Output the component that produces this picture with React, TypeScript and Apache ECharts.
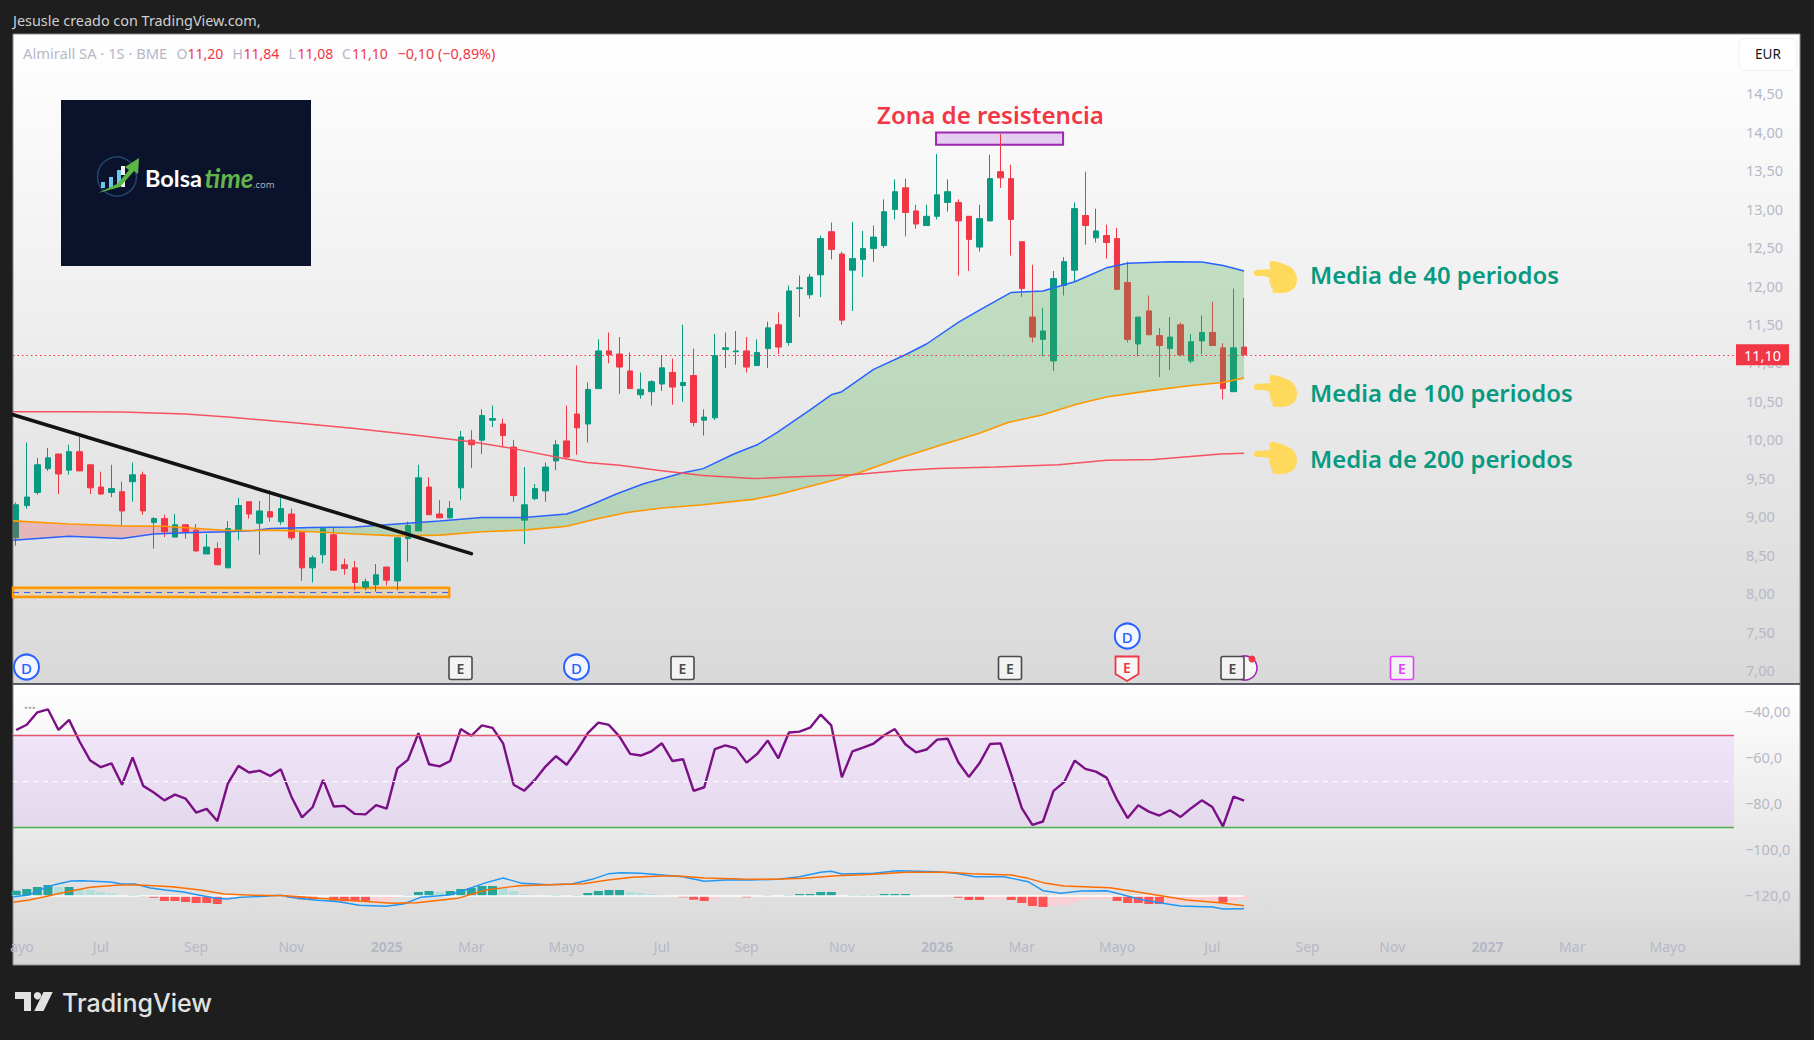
import React, { useEffect, useRef } from "react";
import * as echarts from "echarts";

const FONT = '"Noto Sans", sans-serif';
const AXIS_COLOR = "#b6b8c6";
const GREEN = "#089981";
const RED = "#f23645";

const opens = [8.72,9.14,9.31,9.62,9.81,9.60,9.84,9.67,9.38,9.31,9.32,9.45,9.54,8.92,8.97,8.73,8.89,8.82,8.51,8.58,8.33,8.82,9.19,8.91,9.06,8.93,9.03,8.79,8.33,8.50,8.76,8.37,8.33,8.08,8.11,8.34,8.16,8.71,8.81,9.38,9.03,8.98,9.37,9.99,9.99,10.25,10.20,9.90,8.95,9.23,9.33,9.72,9.98,10.33,10.20,10.66,11.15,11.11,10.89,10.58,10.62,10.72,10.87,10.70,10.83,10.25,10.28,11.17,11.14,11.15,10.96,11.18,11.49,11.26,11.96,11.88,12.14,12.70,12.41,12.20,12.34,12.48,12.52,12.99,13.27,12.97,12.78,12.90,13.08,13.08,12.90,12.50,12.84,13.48,13.39,12.57,11.59,11.30,11.02,12.00,12.20,12.91,12.62,12.65,12.61,12.04,11.24,11.67,11.35,11.18,11.49,11.02,11.28,11.39,11.19,10.62,11.20];
const closes = [9.15,9.25,9.67,9.76,9.55,9.84,9.59,9.37,9.29,9.36,9.07,9.54,9.07,8.97,8.80,8.89,8.80,8.55,8.60,8.37,8.84,9.14,9.03,9.07,8.99,9.10,8.72,8.33,8.46,8.84,8.30,8.32,8.14,8.15,8.24,8.17,8.72,8.88,9.50,9.02,8.98,9.10,10.03,9.93,10.31,10.27,10.05,9.27,9.15,9.36,9.64,9.93,9.77,10.15,10.65,11.15,11.10,10.94,10.66,10.65,10.75,10.93,10.68,10.74,10.22,10.29,11.09,11.19,11.15,10.94,11.13,11.45,11.20,11.93,11.97,12.11,12.61,12.47,11.55,12.35,12.48,12.63,12.96,13.22,12.95,12.80,12.90,13.18,13.22,12.84,12.60,12.87,13.39,13.40,12.86,11.96,11.33,11.41,12.09,12.31,13.00,12.78,12.71,12.56,11.95,11.30,11.59,11.36,11.22,11.33,11.10,11.27,11.39,11.22,10.66,11.19,11.10];
const highs = [9.18,9.96,9.76,9.89,9.81,9.93,10.03,9.67,9.58,9.67,9.45,9.70,9.58,8.99,9.02,9.03,8.90,8.90,8.77,8.66,8.94,9.24,9.19,9.20,9.34,9.24,9.10,8.79,8.49,8.85,8.86,8.45,8.42,8.19,8.38,8.34,8.72,8.93,9.67,9.51,9.21,9.20,10.11,10.12,10.39,10.44,10.27,9.99,9.64,9.42,9.70,9.99,10.44,10.96,10.74,11.30,11.39,11.33,11.13,10.87,10.77,11.09,11.05,11.49,11.18,10.39,11.37,11.39,11.41,11.33,11.30,11.53,11.65,12.00,12.13,12.15,12.65,12.82,12.44,12.83,12.71,12.78,13.12,13.38,13.39,13.05,13.05,13.71,13.38,13.12,12.90,13.05,13.70,13.97,13.57,12.57,12.27,11.71,12.19,12.37,13.08,13.48,13.00,12.79,12.75,12.31,11.59,11.87,11.45,11.59,11.52,11.37,11.61,11.79,11.25,11.96,11.84];
const lows = [8.62,9.10,9.28,9.59,9.29,9.54,9.59,9.29,9.28,9.25,8.88,9.19,9.02,8.58,8.73,8.73,8.71,8.54,8.51,8.37,8.33,8.69,8.97,8.50,8.93,8.89,8.69,8.16,8.14,8.39,8.30,8.24,8.04,8.04,8.02,8.10,8.04,8.41,8.81,9.02,8.98,8.97,9.21,9.63,9.81,10.16,9.90,9.19,8.64,9.21,9.19,9.60,9.75,9.80,9.96,10.66,10.99,10.59,10.66,10.53,10.44,10.63,10.45,10.49,10.17,10.05,10.25,10.93,10.97,10.87,10.96,10.93,11.11,11.22,11.59,11.83,11.85,12.34,11.49,11.67,12.11,12.31,12.49,12.86,12.64,12.74,12.78,12.86,12.96,12.13,12.19,12.44,12.84,13.27,12.39,11.85,11.26,11.08,10.89,11.87,12.05,12.53,12.56,12.35,11.95,11.26,11.08,11.36,10.81,10.90,11.08,10.99,11.11,11.22,10.52,10.62,11.08];

const ma40 = [[-0.3,8.69],[5,8.74],[10,8.71],[13,8.77],[16,8.785],[20,8.80],[22.5,8.815],[24,8.84],[28,8.855],[32,8.86],[36,8.90],[40,8.94],[44,8.985],[48,8.985],[52,9.03],[53,9.075],[54.5,9.16],[56.7,9.29],[59.2,9.42],[63,9.565],[64.9,9.62],[67.8,9.81],[70,9.93],[71.9,10.09],[75,10.385],[77,10.58],[78,10.62],[81,10.91],[84,11.10],[86,11.24],[89,11.52],[91,11.68],[94,11.91],[97,11.93],[100,12.05],[103,12.23],[105,12.29],[109,12.31],[112,12.305],[114,12.26],[116,12.19]];
const ma100 = [[-0.3,8.94],[5,8.90],[10,8.875],[14,8.87],[20,8.815],[22.5,8.815],[24,8.82],[28,8.80],[32,8.77],[36,8.745],[40,8.755],[44,8.80],[48,8.82],[52,8.87],[54.8,8.965],[57.7,9.05],[60.8,9.105],[64.9,9.15],[69.6,9.22],[71.9,9.28],[75,9.39],[77.2,9.47],[79.5,9.56],[83.6,9.76],[87,9.91],[91,10.08],[93.7,10.22],[97,10.32],[100,10.45],[103,10.55],[107.5,10.64],[111,10.70],[114,10.74],[116,10.80]];
const ma200 = [[-0.3,10.36],[5,10.36],[10,10.355],[16,10.33],[20,10.29],[26,10.22],[32,10.14],[38,10.05],[43,9.97],[47,9.88],[51.6,9.755],[53.9,9.70],[57,9.665],[60.8,9.595],[64.9,9.53],[69.6,9.49],[75,9.52],[79,9.54],[84,9.60],[87,9.62],[92.5,9.64],[98.5,9.67],[103,9.73],[107.5,9.74],[113.8,9.81],[116,9.82]];
const MA_CROSS = 22.5;

const trendLine = [[-0.3,10.32],[43,8.515]];
const supportMid = [[-0.3,8.01],[40.9,8.01]];
const supportZone = { x0: -0.3, x1: 40.9, top: 8.07, bottom: 7.95 };
const resistanceZone = { x0: 86.9, x1: 98.9, top: 13.99, bottom: 13.83 };
const lastClose = 11.10;

const rsi = [-48.4,-46.1,-40.7,-39.4,-48.4,-44.0,-53.5,-61.7,-64.6,-62.9,-72.2,-60.3,-72.7,-75.6,-79.0,-76.5,-78.2,-84.3,-82.7,-88.0,-71.6,-64.0,-66.9,-66.1,-68.4,-65.5,-77.4,-86.4,-82.0,-70.1,-81.7,-81.4,-84.9,-85.1,-81.1,-82.6,-65.1,-61.4,-49.8,-63.3,-64.2,-61.9,-48.0,-50.9,-46.4,-47.5,-54.2,-72.2,-74.8,-70.1,-64.3,-59.8,-63.5,-57.1,-49.8,-45.2,-46.2,-51.3,-58.8,-59.5,-57.7,-54.2,-61.9,-61.1,-74.9,-73.3,-56.7,-55.1,-56.4,-62.6,-58.8,-53.0,-60.7,-49.5,-49.1,-47.4,-41.7,-46.4,-69.0,-57.7,-56.1,-54.3,-50.7,-48.0,-54.6,-58.1,-56.9,-52.6,-52.2,-62.4,-68.8,-62.9,-54.5,-54.2,-67.7,-82.4,-89.7,-88.2,-74.9,-71.1,-61.7,-65.3,-66.5,-69.1,-78.8,-86.7,-81.1,-83.9,-85.6,-83.3,-86.2,-82.4,-79.0,-81.9,-90.3,-77.4,-79.1];
const rsiUpper = -50.9;
const rsiMiddle = -70.7;
const rsiLower = -90.7;

const macdHist = [.053,.07,.09,.11,.09,.09,.067,.06,.04,.027,.003,.01,-.007,-.017,-.05,-.05,-.06,-.07,-.07,-.08,-.04,-.017,-.007,-.003,0,.003,-.017,-.033,-.033,-.01,-.047,-.053,-.053,-.054,-.05,-.048,-.01,.01,.04,.05,.04,.05,.07,.08,.10,.10,.08,.05,.02,.003,.002,.01,.003,.01,.03,.05,.06,.06,.04,.03,.02,.007,0,-.013,-.037,-.05,-.03,-.007,-.005,-.013,-.007,.007,0,.01,.02,.02,.04,.04,.001,.01,.01,.01,.02,.02,.02,.007,0,0,-.003,-.017,-.04,-.04,-.033,-.03,-.04,-.07,-.10,-.11,-.10,-.09,-.06,-.04,-.033,-.03,-.05,-.07,-.07,-.08,-.08,-.07,-.065,-.063,-.06,-.058,-.065,-.06,-.033];
const macdLine = [[-0.26,-.007],[1.2,.01],[3,.093],[3.9,.12],[5.2,.15],[6.2,.153],[8.9,.14],[10,.12],[11.2,.12],[12.7,.08],[14.1,.06],[15.8,.04],[17.2,.01],[18.9,-.023],[19.9,-.03],[21.2,-.013],[23.5,-.003],[25,.007],[26.2,-.017],[28.2,-.04],[30.5,-.057],[32.4,-.093],[34.9,-.103],[36.6,-.08],[38.2,-.013],[40.9,.01],[42.4,.06],[44.4,.133],[46,.18],[47.8,.127],[50.2,.113],[52.5,.12],[54.4,.167],[56,.223],[57.1,.233],[59,.227],[61,.21],[63,.193],[65,.147],[67,.16],[69.4,.16],[72,.167],[74,.193],[76,.237],[77,.247],[78,.22],[81,.227],[83.3,.253],[87,.243],[88.7,.227],[90.6,.193],[93.3,.193],[95.6,.143],[97,.053],[98.7,.027],[100.6,.05],[103,.053],[104,.027],[106.4,-.04],[108.3,-.073],[110,-.10],[113,-.11],[114,-.13],[116,-.127]];
const macdSignal = [[-0.26,-.063],[1.2,-.04],[2.7,-.007],[4.6,.037],[7,.087],[9.7,.11],[11.6,.11],[14.7,.093],[17.4,.06],[19.7,.02],[22.4,.007],[25.5,.003],[28.6,-.023],[32.4,-.05],[35.5,-.073],[37.8,-.067],[41.7,-.023],[44.4,.06],[47.5,.103],[50.5,.113],[53.6,.123],[55.9,.16],[58.2,.187],[61,.2],[62.5,.2],[65,.18],[68.6,.17],[71.7,.167],[74.4,.177],[77.5,.203],[81,.217],[84,.237],[88,.237],[90.2,.223],[94,.21],[95.6,.177],[97,.133],[99,.10],[103.3,.083],[105.2,.053],[108.3,0],[110.6,-.04],[113.7,-.067],[116,-.097]];
const macdZero = [[-0.3,0],[116,0]];

const priceTicks = [7,7.5,8,8.5,9,9.5,10,10.5,11,11.5,12,12.5,13,13.5,14,14.5];
const rsiTicks = [-40,-60,-80,-100,-120];
const rsiTickLabels = ["\u221240,00","\u221260,0","\u221280,0","\u2212100,0","\u2212120,0"];
const timeTickPos = [0.55,8,17,26,35,43,52,61,69,78,87,95,104,113,122,130,139,147,156];
const timeTickLabels = ["ayo","Jul","Sep","Nov","2025","Mar","Mayo","Jul","Sep","Nov","2026","Mar","Mayo","Jul","Sep","Nov","2027","Mar","Mayo"];

const headerParts: [number, string, string, number][] = [
  [23, "Almirall SA \u00b7 1S \u00b7 BME", AXIS_COLOR, 14.7],
  [176.5, "O", AXIS_COLOR, 14], [187.5, "11,20", RED, 14],
  [232.5, "H", AXIS_COLOR, 14], [243.5, "11,84", RED, 14],
  [288.5, "L", AXIS_COLOR, 14], [297.5, "11,08", RED, 14],
  [342, "C", AXIS_COLOR, 14], [352, "11,10", RED, 14],
  [397.5, "\u22120,10 (\u22120,89%)", RED, 14.4],
];

const annotations: [number, string][] = [
  [274, "Media de 40 periodos"],
  [392, "Media de 100 periodos"],
  [458, "Media de 200 periodos"],
];
const handTops = [260, 374, 441];

const HAND_PATH = "M2 10 L17 9 C15 6 15 2 17 1 C22 1 28 3 32 5 C39 7 43 13 43 20 C43 28 36 33 28 33 L21 33 C18 33 18 30 19 29 C17 28 16 26 17 24 C15 23 15 20 16 18 C14 17 13 16 2 16 C-1 15 -1 11 2 10 Z";
echarts.graphic.registerShape("hand", echarts.graphic.extendPath(HAND_PATH, {}));

const text = (x: number, y: number, t: string, fill: string, font: string, align = "left", z = 50) => ({
  type: "text", x, y, z, silent: true,
  style: { text: t, fill, font, textAlign: align, textVerticalAlign: "middle" },
});

const rect = (x: number, y: number, w: number, h: number, style: any, z = 50, r = 0) => ({
  type: "rect", z, silent: true, shape: { x, y, width: w, height: h, r }, style,
});

const paneGradient = (to: string) => new echarts.graphic.LinearGradient(0, 0, 0, 1, [
  { offset: 0, color: "#ffffff" }, { offset: 1, color: to },
]);

function badgeD(x: number, y: number) {
  return [
    { type: "circle", z: 50, silent: true, shape: { cx: x, cy: y, r: 12.5 }, style: { fill: "#f4f6ff", stroke: "#2962ff", lineWidth: 2 } },
    text(x, y + 0.5, "D", "#2962ff", `500 15px ${FONT}`, "center", 51),
  ];
}
function badgeE(x: number, color: string) {
  return [
    rect(x - 11.5, 656.5, 23, 23, { fill: "#f3f3f3", stroke: color, lineWidth: 1.6 }, 50, 2),
    text(x, 668, "E", color, `600 14px ${FONT}`, "center", 51),
  ];
}

function backgroundGraphics() {
  return [
    rect(13, 34, 1787, 650, { fill: paneGradient("#d9d9d9") }, -5),
    rect(13, 684, 1787, 281, { fill: paneGradient("#d5d5d5") }, -5),
    rect(13, 34, 1787, 931, { fill: "none", stroke: "#8c8c8c", lineWidth: 1 }, -4),
    { type: "line", z: -3, silent: true, shape: { x1: 13, y1: 684, x2: 1800, y2: 684 }, style: { stroke: "#2a2e39", lineWidth: 1.5 } },
  ];
}

function logoGraphics() {
  const bars: [number, number, number][] = [[103, 186, 8], [111, 181, 13], [119, 174, 18]];
  return [
    rect(61, 100, 250, 166, { fill: "#0a132b" }, 60),
    { type: "circle", z: 61, silent: true, shape: { cx: 117, cy: 176.5, r: 19.5 }, style: { fill: "none", stroke: "#23466f", lineWidth: 1.5 } },
    ...bars.map(([x, y, h]) => rect(x - 2, y - 4, 4, h - 2, { fill: "#6fc6ec" }, 62)),
    rect(121, 166, 4, 9, { fill: "#f0f0f0" }, 62),
    rect(121, 181, 4, 6, { fill: "#f0f0f0" }, 62),
    { type: "polygon", z: 63, silent: true, shape: { points: [[98, 193], [117, 184], [129, 170], [125, 167], [139, 158], [138, 174], [134, 171], [120, 187]] }, style: { fill: "#5cb646" } },
    text(145, 178, "Bolsa", "#ffffff", `700 23.5px Lato, ${FONT}`, "left", 62),
    text(204.5, 178, "time", "#62b44c", `italic 700 26px Lato, ${FONT}`, "left", 62),
    text(253, 184, ".com", "#a8b0bc", `400 9.5px ${FONT}`, "left", 62),
  ];
}

function frontGraphics() {
  const items: any[] = [
    text(13, 20, "Jesusle creado con TradingView.com,", "#cfcfcf", `400 14.4px ${FONT}`),
    ...headerParts.map(([x, t, c, s]) => text(x, 53, t, c, `400 ${s}px ${FONT}`)),
    rect(1739, 38.5, 58, 32, { fill: "#ffffff", stroke: "#efefef", lineWidth: 1 }, 50, 6),
    text(1768, 54, "EUR", "#131722", `400 13.5px ${FONT}`, "center", 51),
    text(24, 707, "\u00b7\u00b7\u00b7", "#aaaaaa", `700 14px ${FONT}`),
    text(990.5, 114, "Zona de resistencia", RED, `600 24.1px ${FONT}`, "center"),
    ...annotations.map(([y, t]) => text(1310, y, t, GREEN, `600 23.9px ${FONT}`)),
    ...handTops.map((y) => ({ type: "hand", z: 50, silent: true, x: 1254, y, style: { fill: "#ffd95c" } })),
    ...badgeD(26.5, 667), ...badgeD(576.5, 667), ...badgeD(1127.3, 636),
    ...badgeE(460.5, "#4a4a4a"), ...badgeE(682.5, "#4a4a4a"), ...badgeE(1010, "#4a4a4a"),
    { type: "polygon", z: 50, silent: true, shape: { points: [[1115.5, 656.5], [1138.5, 656.5], [1138.5, 674], [1127, 681], [1115.5, 674]] }, style: { fill: "#f6f6f6", stroke: RED, lineWidth: 1.8 } },
    text(1127, 667.5, "E", RED, `600 14px ${FONT}`, "center", 51),
    { type: "circle", z: 49, silent: true, shape: { cx: 1245, cy: 668, r: 12 }, style: { fill: "#f6f6f6", stroke: "#9c27b0", lineWidth: 1.5 } },
    ...badgeE(1232.5, "#4a4a4a"),
    { type: "circle", z: 52, silent: true, shape: { cx: 1252, cy: 659, r: 3.5 }, style: { fill: RED } },
    ...badgeE(1402, "#e040fb"),
    rect(15, 992, 16, 7, { fill: "#e2e2e2" }, 50),
    rect(24, 992, 7, 19, { fill: "#e2e2e2" }, 50),
    { type: "circle", z: 50, silent: true, shape: { cx: 37.5, cy: 995.8, r: 3.7 }, style: { fill: "#e2e2e2" } },
    { type: "polygon", z: 50, silent: true, shape: { points: [[43.5, 992], [52.7, 992], [43.5, 1011], [34.2, 1011]] }, style: { fill: "#e2e2e2" } },
    text(62, 1002.5, "TradingView", "#e2e2e2", `500 25px Inter, ${FONT}`),
  ];
  return items;
}

function fillRenderer(params: any, api: any) {
  const part = params.dataIndex;
  const inRange = (p: number[]) => (part === 0 ? p[0] <= MA_CROSS : p[0] >= MA_CROSS);
  const upper = ma40.filter(inRange);
  const lower = ma100.filter(inRange).reverse();
  const points = [...upper, ...lower].map((p) => api.coord(p));
  return {
    type: "polygon",
    shape: { points },
    style: { fill: part === 0 ? "rgba(242,54,69,0.25)" : "rgba(76,175,80,0.29)" },
  };
}

function buildOption() {
  return {
    animation: false,
    backgroundColor: "#1e1e1e",
    textStyle: { fontFamily: FONT },
    grid: [
      { left: 13, right: 80, top: 34, height: 650 },
      { left: 13, right: 80, top: 684, height: 281 },
    ],
    xAxis: [
      { type: "value", gridIndex: 0, min: -0.3, max: 162.28, show: false, splitLine: { show: false } },
      {
        type: "value", gridIndex: 1, min: -0.3, max: 162.28, position: "bottom",
        axisLine: { show: false }, axisTick: { show: false }, splitLine: { show: false },
        axisLabel: {
          inside: true, margin: 11.5, color: AXIS_COLOR, fontSize: 14, fontFamily: FONT, hideOverlap: false,
          customValues: timeTickPos,
          formatter: (v: number) => {
            const t = timeTickLabels[timeTickPos.indexOf(v)] ?? "";
            return /^20/.test(t) ? `{b|${t}}` : t;
          },
          rich: { b: { fontWeight: 700, fontSize: 14, color: AXIS_COLOR, fontFamily: FONT } },
        },
      },
    ],
    yAxis: [
      {
        type: "value", gridIndex: 0, position: "right", min: 6.82, max: 15.27, scale: true,
        axisLine: { show: false }, axisTick: { show: false }, splitLine: { show: false },
        axisLabel: {
          margin: 12, color: AXIS_COLOR, fontSize: 14.5, fontFamily: FONT, customValues: priceTicks,
          padding: [0, 0, 2, 0],
          formatter: (v: number) => v.toFixed(2).replace(".", ","),
        },
      },
      {
        type: "value", gridIndex: 1, position: "right", min: -150.6, max: -28.4, scale: true,
        axisLine: { show: false }, axisTick: { show: false }, splitLine: { show: false },
        axisLabel: {
          margin: 11, color: AXIS_COLOR, fontSize: 14.5, fontFamily: FONT, customValues: rsiTicks,
          padding: [0, 0, 2, 0],
          formatter: (v: number) => rsiTickLabels[rsiTicks.indexOf(v)] ?? "",
        },
      },
      { type: "value", gridIndex: 1, position: "right", min: -0.69, max: 2.12, scale: true, show: false, splitLine: { show: false } },
    ],
    graphic: { elements: [...backgroundGraphics(), ...frontGraphics(), ...logoGraphics()] },
    series: [
      {
        type: "line", name: "Zonas", xAxisIndex: 0, yAxisIndex: 0, z: 1, data: [], symbol: "none",
        markArea: {
          silent: true,
          data: [
            [
              { xAxis: supportZone.x0, yAxis: supportZone.top, itemStyle: { color: "rgba(255,152,0,0.2)", borderColor: "#ff9800", borderWidth: 2.5 } },
              { xAxis: supportZone.x1, yAxis: supportZone.bottom },
            ],
            [
              { xAxis: resistanceZone.x0, yAxis: resistanceZone.top, itemStyle: { color: "#e4cdef", borderColor: "#9c27b0", borderWidth: 2 } },
              { xAxis: resistanceZone.x1, yAxis: resistanceZone.bottom },
            ],
          ],
        },
      },
      {
        type: "line", name: "Soporte", xAxisIndex: 0, yAxisIndex: 0, z: 1, symbol: "none", data: supportMid,
        lineStyle: { color: "#2962ff", width: 1, type: [6, 5] },
      },
      {
        type: "candlestick", name: "Almirall SA", xAxisIndex: 0, yAxisIndex: 0, z: 2, barWidth: 6,
        data: opens.map((o, i) => [i, o, closes[i], lows[i], highs[i]]),
        itemStyle: { color: GREEN, color0: RED, borderColor: GREEN, borderColor0: RED, borderWidth: 1 },
        markLine: {
          silent: true, symbol: "none", animation: false,
          lineStyle: { color: "#f7303f", width: 1.2, type: [1.5, 3] },
          label: {
            show: true, position: "end", distance: 2, formatter: "11,10", color: "#fff",
            backgroundColor: RED, padding: [3, 8, 3, 8], fontSize: 14.5, fontFamily: FONT,
          },
          data: [{ yAxis: lastClose }],
        },
      },
      {
        type: "custom", name: "Relleno medias", xAxisIndex: 0, yAxisIndex: 0, z: 3, silent: true, clip: true,
        data: [[0, 9], [1, 9]], renderItem: fillRenderer,
      },
      { type: "line", name: "MA40", xAxisIndex: 0, yAxisIndex: 0, z: 4, symbol: "none", data: ma40, lineStyle: { color: "#2962ff", width: 1.5 } },
      { type: "line", name: "MA100", xAxisIndex: 0, yAxisIndex: 0, z: 4, symbol: "none", data: ma100, lineStyle: { color: "#ff9800", width: 1.6 } },
      { type: "line", name: "MA200", xAxisIndex: 0, yAxisIndex: 0, z: 4, symbol: "none", data: ma200, lineStyle: { color: "#f7525f", width: 1.5 } },
      { type: "line", name: "Tendencia", xAxisIndex: 0, yAxisIndex: 0, z: 5, symbol: "none", data: trendLine, lineStyle: { color: "#131313", width: 3.6, cap: "round" } },
      {
        type: "line", name: "RSI", xAxisIndex: 1, yAxisIndex: 1, z: 4, symbol: "none",
        data: rsi.map((v, i) => [i, v]), lineStyle: { color: "#7b0f85", width: 2.4 },
        markArea: {
          silent: true, itemStyle: { color: "rgba(190,110,255,0.14)" },
          data: [[{ yAxis: rsiUpper }, { yAxis: rsiLower }]],
        },
        markLine: {
          silent: true, symbol: "none", label: { show: false },
          data: [
            { yAxis: rsiUpper, lineStyle: { color: "#e0566d", width: 1.3, type: "solid" } },
            { yAxis: rsiMiddle, lineStyle: { color: "#ffffff", width: 1, type: [5, 5] } },
            { yAxis: rsiLower, lineStyle: { color: "#4caf50", width: 1.3, type: "solid" } },
          ],
        },
      },
      {
        type: "bar", name: "Histograma", xAxisIndex: 1, yAxisIndex: 2, z: 2, barWidth: 9,
        data: macdHist.map((v, i) => [i, v]),
        itemStyle: {
          color: (p: any) => {
            const i = p.dataIndex;
            const v = macdHist[i];
            const prev = i > 0 ? macdHist[i - 1] : v;
            if (v >= 0) return v >= prev ? "#26a69a" : "#b2dfdb";
            return v <= prev ? "#ff5252" : "#ffcdd2";
          },
        },
      },
      { type: "line", name: "Cero", xAxisIndex: 1, yAxisIndex: 2, z: 3, symbol: "none", data: macdZero, lineStyle: { color: "#ffffff", width: 1.3 } },
      { type: "line", name: "MACD", xAxisIndex: 1, yAxisIndex: 2, z: 4, symbol: "none", data: macdLine, lineStyle: { color: "#2196f3", width: 1.4 } },
      { type: "line", name: "Señal", xAxisIndex: 1, yAxisIndex: 2, z: 4, symbol: "none", data: macdSignal, lineStyle: { color: "#ff6d00", width: 1.4 } },
    ],
  };
}

export default function App() {
  const ref = useRef<HTMLDivElement>(null);
  useEffect(() => {
    document.body.style.margin = "0";
    document.body.style.background = "#1e1e1e";
    const chart = echarts.init(ref.current!, undefined, { renderer: "svg" });
    chart.setOption(buildOption() as any);
    return () => chart.dispose();
  }, []);
  return <div ref={ref} style={{ width: 1814, height: 1040 }} />;
}
